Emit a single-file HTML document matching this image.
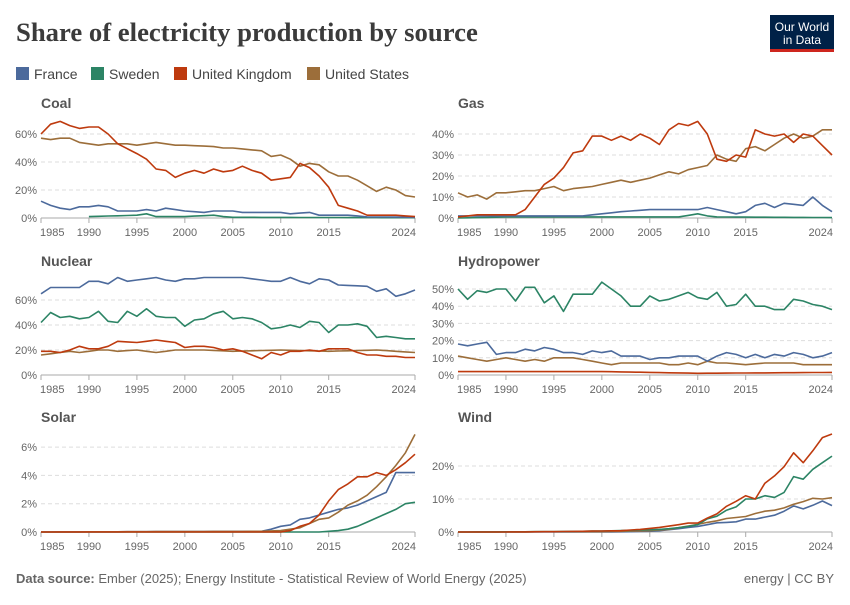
<!DOCTYPE html><html><head><meta charset="utf-8"><style>
body{margin:0;background:#fff;width:850px;height:600px;overflow:hidden;font-family:"Liberation Sans",sans-serif}
</style></head><body>
<svg id="s" width="850" height="600" xmlns="http://www.w3.org/2000/svg" font-family="Liberation Sans, sans-serif">
<text x="16" y="41" font-family="Liberation Serif, serif" font-weight="bold" font-size="26.7" fill="#3b3b3b">Share of electricity production by source</text>
<rect x="770" y="15" width="64" height="37" fill="#002147"/>
<rect x="770" y="49" width="64" height="3" fill="#ce261e"/>
<text x="802" y="31" font-size="12" fill="#fff" text-anchor="middle">Our World</text>
<text x="802" y="44" font-size="12" fill="#fff" text-anchor="middle">in Data</text>
<g font-size="14" fill="#444">
<rect x="16" y="67" width="13" height="13" fill="#4c6a9c"/><text x="34" y="79">France</text>
<rect x="91" y="67" width="13" height="13" fill="#2c8465"/><text x="109" y="79">Sweden</text>
<rect x="174" y="67" width="13" height="13" fill="#be3a0e"/><text x="192" y="79">United Kingdom</text>
<rect x="307" y="67" width="13" height="13" fill="#9c6e3a"/><text x="325" y="79">United States</text>
</g>
<text x="16" y="583" font-size="13" fill="#666"><tspan font-weight="bold">Data source:</tspan> Ember (2025); Energy Institute - Statistical Review of World Energy (2025)</text>
<text x="834" y="583" font-size="13" fill="#666" text-anchor="end">energy | CC BY</text>
</svg>
<script>
const C={F:"#4c6a9c",S:"#2c8465",U:"#be3a0e",A:"#9c6e3a"};
function P(a){const o=[];for(let i=0;i<a.length;i+=2)o.push([a[i]<100?(a[i]<50?2000+a[i]:1900+a[i]):a[i],a[i+1]]);return o;}
const panels=[
{t:"Coal",x0:41,x1:415,y0:218,k:1.4,ticks:[0,20,40,60],d:{
S:P([90,1,95,2,96,3,97,1,0,1,3,2,4,1,5,0.5,24,0.2]),
F:P([85,12,86,9,87,7,88,6,89,8,90,8,91,9,92,8,93,5,95,5,96,6,97,5,98,7,99,6,0,5,2,4,3,5,5,5,6,4,10,4,11,3,13,4,14,2,16,2,17,2,18,1.5,19,0.8,24,0.5]),
A:P([85,57,86,56,87,57,88,57,89,54,90,53,91,52,92,53,94,53,95,52,96,53,97,54,98,53,99,52,0,52,3,51,4,50,5,50,8,48,9,44,10,45,11,42,12,37,13,39,14,38,15,33,16,30,17,30,18,27,19,23,20,19,21,22,22,20,23,16,24,15]),
U:P([85,60,86,67,87,69,88,66,89,64,90,65,91,65,92,60,93,53,95,46,96,42,97,35,98,34,99,29,0,32,1,34,2,32,3,35,4,33,5,34,6,37,7,34,8,32,9,27,10,28,11,29,12,39,13,36,14,30,15,22,16,9,17,7,18,5,19,2,20,2,22,2,24,1])}},
{t:"Gas",x0:458,x1:832,y0:218,k:2.1,ticks:[0,10,20,30,40],d:{
S:P([85,0,90,0.5,0,0.5,8,0.5,10,2,11,1,12,0.5,24,0.2]),
F:P([85,1,98,1,0,2,2,3,5,4,10,4,11,5,12,4,14,2,15,3,16,6,17,7,18,5,19,7,21,6,22,10,23,6,24,3]),
A:P([85,12,86,10,87,11,88,9,89,12,90,12,92,13,93,13,95,15,96,13,97,14,99,15,2,18,3,17,5,19,7,22,8,21,9,23,10,24,11,25,12,30,13,28,14,27,15,33,16,34,17,32,18,35,19,38,20,40,21,38,22,39,23,42,24,42]),
U:P([85,0.5,86,1,87,1.5,91,1.5,92,4,93,10,94,16,95,19,96,24,97,31,98,32,99,39,0,39,1,37,2,39,3,37,4,40,5,38,6,35,7,42,8,45,9,44,10,46,11,40,12,28,13,27,14,30,15,29,16,42,17,40,18,39,19,40,20,36,21,40,22,39,24,30])}},
{t:"Nuclear",x0:41,x1:415,y0:375,k:1.25,ticks:[0,20,40,60],d:{
A:P([85,16,86,17,87,18,88,19,89,18,90,19,91,20,92,20,93,19,95,20,97,18,98,19,99,20,0,20,2,20,5,19,10,20,15,19,20,20,24,18]),
U:P([85,19,86,19,87,18,88,20,89,23,90,21,91,21,92,23,93,27,95,26,96,27,97,28,98,27,99,26,0,22,1,23,2,23,3,22,4,20,5,21,6,19,7,16,8,13,9,18,10,16,11,19,12,19,13,20,14,19,15,21,16,21,17,21,18,18,19,16,20,16,21,15,22,15,23,14,24,14]),
S:P([85,42,86,50,87,46,88,47,89,45,90,46,91,51,92,43,93,42,94,51,95,47,96,53,97,47,98,46,99,46,0,39,1,44,2,45,3,49,4,51,5,45,6,46,7,45,8,42,9,37,10,38,11,40,12,38,13,43,14,42,15,34,16,40,17,40,18,41,19,39,20,30,21,31,22,30,23,29,24,29]),
F:P([85,65,86,70,89,70,90,75,91,75,92,73,93,78,94,75,96,77,97,78,98,76,99,75,0,77,1,77,2,78,6,78,7,77,8,76,9,75,10,75,11,78,12,75,13,73,14,77,15,76,16,72,19,71,20,67,21,69,22,63,23,65,24,68])}},
{t:"Hydropower",x0:458,x1:832,y0:375,k:1.72,ticks:[0,10,20,30,40,50],d:{
U:P([85,2,90,2,0,2,10,1,24,1.5]),
A:P([85,11,86,10,87,9,88,8,89,9,90,10,91,9,92,8,93,9,94,8,95,10,96,10,97,10,98,9,99,8,0,7,1,6,2,7,3,7,5,7,6,7,7,6,8,6,9,7,10,6,11,8,12,7,13,7,15,6,17,7,18,7,20,7,21,6,24,6]),
F:P([85,18,86,17,87,18,88,19,89,12,90,13,91,13,92,15,93,14,94,16,95,15,96,13,97,13,98,12,99,14,0,13,1,14,2,11,3,11,4,11,5,9,6,10,7,10,8,11,9,11,10,11,11,8,12,11,13,13,14,12,15,10,16,12,17,10,18,12,19,11,20,13,21,12,22,10,23,11,24,13]),
S:P([85,50,86,44,87,49,88,48,89,50,90,50,91,43,92,51,93,51,94,42,95,46,96,37,97,47,98,47,99,47,0,54,1,50,2,46,3,40,4,40,5,46,6,43,7,44,8,46,9,48,10,45,11,44,12,48,13,40,14,41,15,47,16,40,17,40,18,38,19,38,20,44,21,43,22,41,23,40,24,38])}},
{t:"Solar",x0:41,x1:415,y0:532,k:14.15,ticks:[0,2,4,6],d:{
S:P([85,0,14,0,16,0.1,17,0.2,18,0.4,19,0.7,20,1,21,1.3,22,1.6,23,2,24,2.1]),
F:P([85,0,8,0.05,9,0.2,10,0.4,11,0.5,12,0.9,13,1,14,1.2,15,1.4,16,1.6,17,1.7,18,1.9,19,2.2,20,2.5,21,2.8,22,4.2,23,4.2,24,4.2]),
A:P([85,0,8,0.05,10,0.1,11,0.2,12,0.3,13,0.6,14,0.9,15,1,16,1.4,17,1.9,18,2.2,19,2.6,20,3.2,21,3.9,22,4.7,23,5.6,24,6.9]),
U:P([85,0,10,0,11,0.1,12,0.4,13,0.6,14,1.2,15,2.2,16,3,17,3.4,18,3.9,19,3.9,20,4.2,21,4,22,4.4,23,4.9,24,5.5])}},
{t:"Wind",x0:458,x1:832,y0:532,k:3.3,ticks:[0,10,20],d:{
F:P([85,0,0,0,3,0.1,5,0.2,6,0.4,7,0.7,8,1,9,1.4,10,1.7,11,2.2,12,2.8,13,2.9,14,3.1,15,3.9,16,3.9,17,4.5,18,5.1,19,6.3,20,7.9,21,7,22,8.1,23,9.4,24,8]),
A:P([85,0,95,0.1,0,0.1,5,0.4,7,0.8,8,1.3,9,1.8,10,2.3,11,2.9,12,3.4,13,4.1,14,4.4,15,4.7,16,5.6,17,6.3,18,6.6,19,7.3,20,8.4,21,9.2,22,10.2,23,10,24,10.4]),
S:P([85,0,95,0.1,0,0.3,4,0.6,6,0.8,7,1,8,1.3,9,1.7,10,2.2,11,4,12,4.8,13,6.6,14,7.6,15,10,16,10,17,11,18,10.5,19,12,20,16.8,21,16,22,19,23,21,24,23]),
U:P([85,0,90,0,95,0.1,0,0.3,2,0.4,3,0.6,4,0.8,5,1.1,6,1.4,7,1.8,8,2.2,9,2.7,10,2.7,11,4.2,12,5.5,13,7.8,14,9.3,15,11,16,10,17,14.8,18,17,19,19.8,20,24,21,21,22,24.6,23,28.6,24,29.7])}}
];
let h="";
for(const p of panels){
 const X=y=>p.x0+(y-1985)*(p.x1-p.x0)/39, Y=v=>p.y0-v*p.k;
 const top=p.t=="Coal"||p.t=="Gas"?103:p.t=="Solar"||p.t=="Wind"?417:261;
 h+=`<text x="${p.x0}" y="${top+5}" font-size="14" font-weight="bold" fill="#555">${p.t}</text>`;
 for(const t of p.ticks){
  if(t>0)h+=`<line x1="${p.x0}" x2="${p.x1}" y1="${Y(t)}" y2="${Y(t)}" stroke="#ddd" stroke-dasharray="4,3"/>`;
  h+=`<text x="${p.x0-4}" y="${Y(t)+4}" font-size="11" fill="#666" text-anchor="end">${t}%</text>`;
 }
 h+=`<line x1="${p.x0}" x2="${p.x1}" y1="${p.y0}" y2="${p.y0}" stroke="#aaa"/>`;
 for(const yr of [1985,1990,1995,2000,2005,2010,2015,2024]){
  const x=X(yr);const a=yr==1985?"start":yr==2024?"end":"middle";
  h+=`<line x1="${x}" x2="${x}" y1="${p.y0}" y2="${p.y0+5}" stroke="#aaa"/>`;
  h+=`<text x="${yr==1985?x-1:yr==2024?x+1:x}" y="${p.y0+18}" font-size="11" fill="#666" text-anchor="${a}">${yr}</text>`;
 }
 for(const c in p.d){
  const pts=p.d[c];let s=[];
  const y0=pts[0][0];
  for(let yr=y0;yr<=2024;yr++){
   let v=pts[pts.length-1][1];
   for(let i=0;i<pts.length-1;i++){if(yr>=pts[i][0]&&yr<=pts[i+1][0]){const f=(yr-pts[i][0])/((pts[i+1][0]-pts[i][0])||1);v=pts[i][1]+f*(pts[i+1][1]-pts[i][1]);break;}}
   s.push(X(yr).toFixed(1)+","+Y(v).toFixed(1));
  }
  h+=`<polyline points="${s.join(" ")}" fill="none" stroke="${C[c]}" stroke-width="1.6" stroke-linejoin="round"/>`;
 }
}
document.getElementById("s").insertAdjacentHTML("beforeend",h);
</script>
</body></html>
